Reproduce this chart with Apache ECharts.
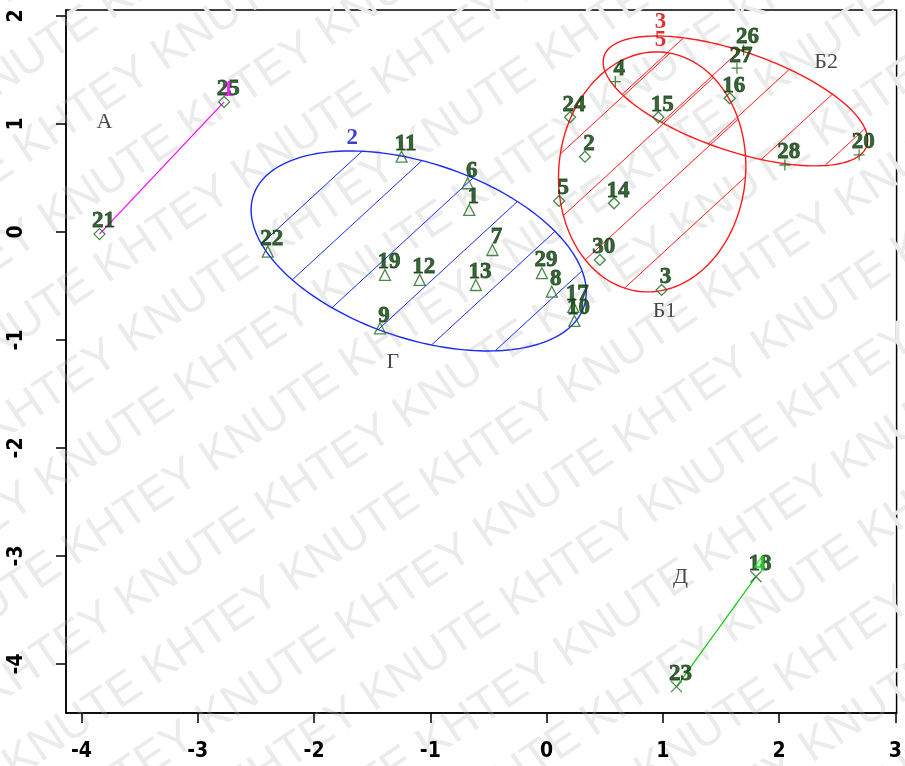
<!DOCTYPE html>
<html>
<head>
<meta charset="utf-8">
<script src="https://cdn.jsdelivr.net/npm/echarts@6/dist/echarts.min.js"></script>
<style>
  html, body { margin: 0; padding: 0; background: #ffffff; }
  #chart { width: 905px; height: 766px; }
</style>
</head>
<body>
<div id="chart"></div>
<script>
// Objects projected on the first two components, grouped by cluster
const clusterA_ids = ['21', '25'];
const clusterA_x = [-3.845, -2.773];
const clusterA_y = [-0.020, 1.204];

const clusterG_ids = ['22', '11', '6', '1', '7', '19', '12', '13', '29', '8', '17', '10', '9'];
const clusterG_x = [-2.398, -1.247, -0.679, -0.665, -0.466, -1.390, -1.091, -0.608, -0.040, 0.045, 0.230, 0.239, -1.432];
const clusterG_y = [-0.182, 0.697, 0.451, 0.204, -0.167, -0.398, -0.444, -0.491, -0.382, -0.553, -0.694, -0.824, -0.892];

const clusterB1_ids = ['24', '2', '5', '14', '30', '3', '15', '16'];
const clusterB1_x = [0.202, 0.330, 0.108, 0.580, 0.458, 0.989, 0.961, 1.575];
const clusterB1_y = [1.062, 0.697, 0.287, 0.266, -0.259, -0.537, 1.062, 1.238];

const clusterB2_ids = ['4', '26', '27', '28', '20'];
const clusterB2_x = [0.591, 1.694, 1.637, 2.049, 2.688];
const clusterB2_y = [1.392, 1.685, 1.516, 0.620, 0.713];

const clusterD_ids = ['23', '18'];
const clusterD_x = [1.117, 1.801];
const clusterD_y = [-4.210, -3.192];

// Cluster numbers printed on the plot
const clusterNum_text = ['1', '2', '3', '5', '4'];
const clusterNum_x = [-2.773, -1.705, 0.946, 0.946, 1.801];
const clusterNum_y = [1.204, 0.759, 1.833, 1.667, -3.192];

// Cluster names
const groupName_text = ['А', 'Б1', 'Б2', 'Г', 'Д'];
const groupName_x = [-3.802, 1.014, 2.404, -1.321, 1.151];
const groupName_y = [1.019, -0.731, 1.574, -1.204, -3.194];

// Concentration ellipses: centre and two conjugate semi-axes (Г, Б1, Б2)
const ellipseCenter = [[-1.100, -0.176], [0.908, 0.556], [1.624, 1.213]];
const ellipseAxisU = [[1.4215, -0.5134], [0.7993, -0.0848], [1.1297, -0.4153]];
const ellipseAxisV = [[-0.2360, -0.7706], [-0.0997, -1.1077], [-0.1356, -0.4350]];

const xTicks = [-4, -3, -2, -1, 0, 1, 2, 3];
const yTicks = [-4, -3, -2, -1, 0, 1, 2];

// ---- styling ----
const ellipseColor = ['#1a2cf0', '#ff1a1a', '#ff1a1a'];
const clusterNumColor = ['#ff00ff', '#1010b8', '#d00000', '#d00000', '#22dd22'];
const hatchPhase = [-23, -38, 18];
const HATCH_SLOPE = 0.92;
const HATCH_STEP = 64.4;
const MARK = '#1f6a1f';
const LABEL = '#0a400a';
const SERIF = '"Liberation Serif", "DejaVu Serif", serif';
const NARROW = '"Liberation Sans Narrow", "DejaVu Sans Condensed", "Liberation Sans", sans-serif';

function pts(ids, xs, ys) {
  return ids.map((id, i) => ({ name: id, value: [xs[i], ys[i]] }));
}

const pointLabel = {
  show: true,
  position: 'top',
  distance: 0,
  offset: [4, 5],
  formatter: p => p.name,
  fontFamily: SERIF,
  fontWeight: 'bold',
  fontSize: 23,
  color: LABEL,
  textBorderColor: '#0a330a',
  textBorderWidth: 0.8
};

function markerSeries(ids, xs, ys, symbol) {
  return {
    type: 'scatter',
    data: pts(ids, xs, ys),
    symbol: symbol,
    symbolSize: 11,
    itemStyle: { color: 'rgba(0,0,0,0)', borderColor: MARK, borderWidth: 1.3 },
    label: pointLabel,
    emphasis: { disabled: true },
    z: 4
  };
}

function renderEllipse(params, api) {
  const i = api.value(2);
  const c = ellipseCenter[i], u = ellipseAxisU[i], v = ellipseAxisV[i];
  const color = ellipseColor[i];
  const poly = [];
  const N = 200;
  for (let k = 0; k < N; k++) {
    const t = 2 * Math.PI * k / N;
    poly.push(api.coord([
      c[0] + u[0] * Math.cos(t) + v[0] * Math.sin(t),
      c[1] + u[1] * Math.cos(t) + v[1] * Math.sin(t)
    ]));
  }
  const pc = api.coord(c);
  const f = p => HATCH_SLOPE * p[0] + p[1];
  let fmin = Infinity, fmax = -Infinity;
  poly.forEach(p => { const q = f(p); if (q < fmin) fmin = q; if (q > fmax) fmax = q; });
  const base = f(pc) + hatchPhase[i];
  const children = [{
    type: 'polygon',
    shape: { points: poly },
    style: { fill: 'none', stroke: color, lineWidth: 1.4 }
  }];
  const kmin = Math.ceil((fmin - base) / HATCH_STEP);
  const kmax = Math.floor((fmax - base) / HATCH_STEP);
  for (let k = kmin; k <= kmax; k++) {
    const cv = base + k * HATCH_STEP;
    const hits = [];
    for (let j = 0; j < poly.length; j++) {
      const p1 = poly[j], p2 = poly[(j + 1) % poly.length];
      const f1 = f(p1) - cv, f2 = f(p2) - cv;
      if ((f1 <= 0 && f2 > 0) || (f1 > 0 && f2 <= 0)) {
        const s = f1 / (f1 - f2);
        hits.push([p1[0] + s * (p2[0] - p1[0]), p1[1] + s * (p2[1] - p1[1])]);
      }
    }
    if (hits.length >= 2) {
      hits.sort((a, b) => a[0] - b[0]);
      const a = hits[0], b = hits[hits.length - 1];
      children.push({
        type: 'line',
        shape: { x1: a[0], y1: a[1], x2: b[0], y2: b[1] },
        style: { stroke: color, lineWidth: 1 }
      });
    }
  }
  return { type: 'group', children: children };
}

// Background watermark rows
const wmRows = [];
for (let r = -9; r <= 9; r++) {
  wmRows.push({
    type: 'text',
    x: -900 + ((r % 2 + 2) % 2) * 150,
    y: r * 72,
    style: {
      text: 'KHTEY KNUTE KHTEY KNUTE KHTEY KNUTE KHTEY KNUTE KHTEY KNUTE',
      fill: '#ebebeb',
      fontSize: 46,
      fontFamily: '"Liberation Sans", "DejaVu Sans", sans-serif',
      verticalAlign: 'middle'
    }
  });
}

const chart = echarts.init(document.getElementById('chart'), null, { renderer: 'canvas' });

chart.setOption({
  animation: false,
  backgroundColor: '#ffffff',
  graphic: [{
    type: 'group',
    x: 452, y: 383,
    rotation: 34 * Math.PI / 180,
    silent: true,
    z: -10,
    children: wmRows
  }],
  grid: {
    left: 66, right: 4, top: 10, bottom: 53,
    show: true,
    borderColor: '#000',
    borderWidth: 1.5,
    backgroundColor: 'transparent'
  },
  xAxis: {
    type: 'value',
    min: -4.133, max: 3.01,
    axisLine: { show: true, onZero: false, lineStyle: { color: '#000', width: 1.5 } },
    axisTick: { show: true, customValues: xTicks, length: 10, lineStyle: { color: '#000', width: 1.5 } },
    axisLabel: {
      customValues: xTicks,
      margin: 28,
      color: '#000',
      fontFamily: NARROW,
      fontWeight: 'bold',
      fontSize: 21
    },
    splitLine: { show: false }
  },
  yAxis: {
    type: 'value',
    min: -4.454, max: 2.055,
    axisLine: { show: true, onZero: false, lineStyle: { color: '#000', width: 1.5 } },
    axisTick: { show: true, customValues: yTicks, length: 10, lineStyle: { color: '#000', width: 1.5 } },
    axisLabel: {
      customValues: yTicks,
      rotate: 90,
      margin: 39,
      color: '#000',
      fontFamily: NARROW,
      fontWeight: 'bold',
      fontSize: 21
    },
    splitLine: { show: false }
  },
  series: [
    {
      type: 'custom',
      renderItem: renderEllipse,
      data: ellipseCenter.map((c, i) => [c[0], c[1], i]),
      clip: false,
      silent: true,
      z: 2
    },
    {
      type: 'line',
      data: clusterA_x.map((x, i) => [x, clusterA_y[i]]),
      showSymbol: false,
      lineStyle: { color: '#ff00ff', width: 1.2 },
      silent: true,
      z: 3
    },
    {
      type: 'line',
      data: clusterD_x.map((x, i) => [x, clusterD_y[i]]),
      showSymbol: false,
      lineStyle: { color: '#11cc11', width: 1.2 },
      silent: true,
      z: 3
    },
    markerSeries(clusterA_ids, clusterA_x, clusterA_y, 'diamond'),
    markerSeries(clusterG_ids, clusterG_x, clusterG_y, 'triangle'),
    markerSeries(clusterB1_ids, clusterB1_x, clusterB1_y, 'diamond'),
    markerSeries(clusterB2_ids, clusterB2_x, clusterB2_y, 'path://M5,0L5,10M0,5L10,5'),
    markerSeries(clusterD_ids, clusterD_x, clusterD_y, 'path://M0,0L10,10M10,0L0,10'),
    {
      type: 'scatter',
      data: clusterNum_text.map((t, i) => ({
        name: t,
        value: [clusterNum_x[i], clusterNum_y[i]],
        label: { color: clusterNumColor[i] }
      })),
      symbolSize: 11,
      itemStyle: { color: 'rgba(0,0,0,0)' },
      label: {
        show: true,
        position: 'top',
        distance: 0,
        offset: [4, 5],
        formatter: p => p.name,
        fontFamily: SERIF,
        fontWeight: 'bold',
        fontSize: 23
      },
      silent: true,
      z: 5
    },
    {
      type: 'scatter',
      data: groupName_text.map((t, i) => ({ name: t, value: [groupName_x[i], groupName_y[i]] })),
      symbolSize: 1,
      itemStyle: { color: 'rgba(0,0,0,0)' },
      label: {
        show: true,
        position: 'inside',
        formatter: p => p.name,
        fontFamily: SERIF,
        fontSize: 22,
        color: '#1a1a1a'
      },
      silent: true,
      z: 5
    }
  ]
});
</script>
</body>
</html>
